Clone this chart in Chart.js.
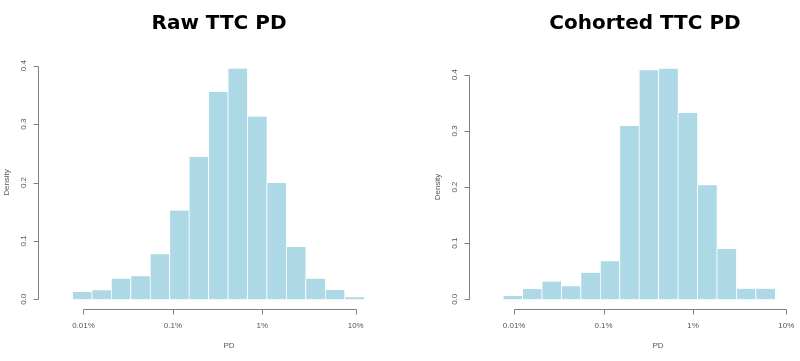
<!DOCTYPE html>
<html>
<head>
<meta charset="utf-8">
<script src="https://cdn.jsdelivr.net/npm/chart.js@4.4.1/dist/chart.umd.min.js"></script>
<style>
  html, body { margin: 0; padding: 0; background: #fff; }
  #wrap { position: relative; width: 800px; height: 361px; }
  canvas { position: absolute; top: 0; }
</style>
</head>
<body>
<div id="wrap">
  <canvas id="raw" width="400" height="361" style="left:0"></canvas>
  <canvas id="coh" width="400" height="361" style="left:400px"></canvas>
</div>
<script>
// histogram bins are in ln(PD), 0.5 wide, starting at the left edge below
const binWidth = 0.5;
const rawBinStart = -9.5;
const rawDensity = [0.0126, 0.0154, 0.0354, 0.0394, 0.077, 0.152, 0.244, 0.355, 0.395, 0.313, 0.199, 0.0896, 0.0354, 0.016, 0.0034];
const cohBinStart = -9.5;
const cohDensity = [0.0059, 0.0184, 0.0315, 0.0231, 0.0475, 0.0677, 0.3086, 0.408, 0.4107, 0.332, 0.203, 0.0896, 0.019, 0.019];

const yTicks = [0, 0.1, 0.2, 0.3, 0.4];
const yTickLabels = ['0.0', '0.1', '0.2', '0.3', '0.4'];
const xTicks = [-9.21, -6.91, -4.61, -2.21];
const xTickLabels = ['0.01%', '0.1%', '1%', '10%'];

const AXIS = '#808080';
const TEXT = '#555555';
const FILL = '#add8e6';

// base-R style axes: detached, ticks pointing out, rotated y labels
const rAxes = {
  id: 'rAxes',
  afterDraw(chart, args, opts) {
    const { ctx, chartArea: a, scales: { x, y } } = chart;
    ctx.save();
    ctx.strokeStyle = AXIS;
    ctx.lineWidth = 1;

    const yx = Math.round(a.left) + 0.5;
    ctx.beginPath();
    ctx.moveTo(yx, Math.round(y.getPixelForValue(yTicks[0])) + 0.5);
    ctx.lineTo(yx, Math.round(y.getPixelForValue(yTicks[yTicks.length - 1])) + 0.5);
    yTicks.forEach(v => {
      const py = Math.round(y.getPixelForValue(v)) + 0.5;
      ctx.moveTo(yx, py);
      ctx.lineTo(yx - 5, py);
    });

    const xy = Math.round(a.bottom + 10) + 0.5;
    ctx.moveTo(Math.round(x.getPixelForValue(xTicks[0])) + 0.5, xy);
    ctx.lineTo(Math.round(x.getPixelForValue(xTicks[xTicks.length - 1])) + 0.5, xy);
    xTicks.forEach(v => {
      const px = Math.round(x.getPixelForValue(v)) + 0.5;
      ctx.moveTo(px, xy);
      ctx.lineTo(px, xy + 5);
    });
    ctx.stroke();

    ctx.fillStyle = TEXT;
    ctx.font = '8px "Liberation Sans", Arial, sans-serif';
    ctx.textAlign = 'center';
    ctx.textBaseline = 'middle';
    xTicks.forEach((v, i) => {
      ctx.fillText(xTickLabels[i], x.getPixelForValue(v), a.bottom + 26);
    });
    ctx.fillText('PD', opts.xLabelX, a.bottom + 46);

    yTicks.forEach((v, i) => {
      ctx.save();
      ctx.translate(a.left - 14, y.getPixelForValue(v));
      ctx.rotate(-Math.PI / 2);
      ctx.fillText(yTickLabels[i], 0, 0);
      ctx.restore();
    });
    ctx.save();
    ctx.translate(a.left - 31, (y.getPixelForValue(0) + y.getPixelForValue(0.4)) / 2);
    ctx.rotate(-Math.PI / 2);
    ctx.fillText('Density', 0, 0);
    ctx.restore();

    ctx.fillStyle = '#000';
    ctx.font = 'bold 20px "DejaVu Sans", sans-serif';
    ctx.textBaseline = 'alphabetic';
    ctx.fillText(opts.title, opts.titleX, 29);
    ctx.restore();
  }
};

function makeHist(id, binStart, density, xMin, xMax, pad, title, titleX, xLabelX) {
  const data = density.map((d, i) => ({ x: binStart + binWidth * (i + 0.5), y: d }));
  return new Chart(document.getElementById(id), {
    type: 'bar',
    data: {
      datasets: [{
        data: data,
        backgroundColor: FILL,
        borderColor: '#ffffff',
        borderWidth: { left: 1, right: 0, top: 0, bottom: 0 },
        barPercentage: 1,
        categoryPercentage: 1,
        clip: false
      }]
    },
    options: {
      responsive: false,
      animation: false,
      devicePixelRatio: 1,
      layout: { padding: pad },
      plugins: {
        legend: { display: false },
        tooltip: { enabled: false },
        rAxes: { title: title, titleX: titleX, xLabelX: xLabelX }
      },
      scales: {
        x: { type: 'linear', min: xMin, max: xMax, offset: false, display: false },
        y: { min: 0, max: 0.4, display: false }
      }
    },
    plugins: [rAxes]
  });
}

makeHist('raw', rawBinStart, rawDensity, -10.38, -1.3,
  { left: 38, right: 8.9, top: 65.7, bottom: 61.7 }, 'Raw TTC PD', 219, 229);
makeHist('coh', cohBinStart, cohDensity, -10.37, -1.9,
  { left: 69, right: 1.6, top: 74.7, bottom: 61.7 }, 'Cohorted TTC PD', 245, 258);
</script>
</body>
</html>
